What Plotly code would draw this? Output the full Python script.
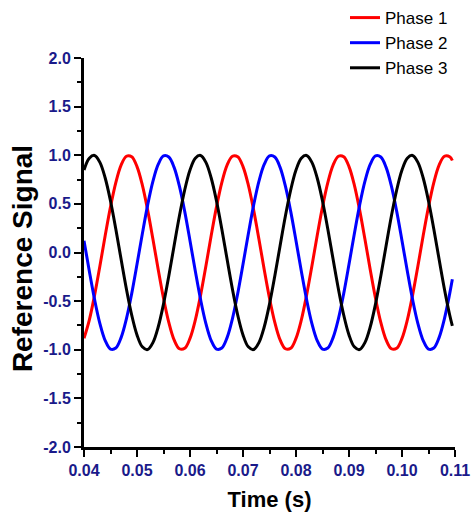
import plotly.graph_objects as go

# Time samples (s)
time_s = [0.040, 0.041, 0.042, 0.043, 0.044, 0.045, 0.046, 0.047, 0.048, 0.049,
          0.050, 0.051, 0.052, 0.053, 0.054, 0.055, 0.056, 0.057, 0.058, 0.059,
          0.060, 0.061, 0.062, 0.063, 0.064, 0.065, 0.066, 0.067, 0.068, 0.069,
          0.070, 0.071, 0.072, 0.073, 0.074, 0.075, 0.076, 0.077, 0.078, 0.079,
          0.080, 0.081, 0.082, 0.083, 0.084, 0.085, 0.086, 0.087, 0.088, 0.089,
          0.090, 0.091, 0.092, 0.093, 0.094, 0.095, 0.096, 0.097, 0.098, 0.099,
          0.100, 0.101, 0.102, 0.103, 0.104, 0.105, 0.106, 0.107, 0.108, 0.109,
          0.1095]

phase1 = [-0.883, -0.695, -0.438, -0.139, 0.174, 0.469, 0.719, 0.899, 0.990, 0.985,
          0.883, 0.695, 0.438, 0.139, -0.174, -0.469, -0.719, -0.899, -0.990, -0.985,
          -0.883, -0.695, -0.438, -0.139, 0.174, 0.469, 0.719, 0.899, 0.990, 0.985,
          0.883, 0.695, 0.438, 0.139, -0.174, -0.469, -0.719, -0.899, -0.990, -0.985,
          -0.883, -0.695, -0.438, -0.139, 0.174, 0.469, 0.719, 0.899, 0.990, 0.985,
          0.883, 0.695, 0.438, 0.139, -0.174, -0.469, -0.719, -0.899, -0.990, -0.985,
          -0.883, -0.695, -0.438, -0.139, 0.174, 0.469, 0.719, 0.899, 0.990, 0.985,
          0.946]

phase2 = [0.122, -0.191, -0.485, -0.731, -0.906, -0.993, -0.982, -0.875, -0.682, -0.423,
          -0.122, 0.191, 0.485, 0.731, 0.906, 0.993, 0.982, 0.875, 0.682, 0.423,
          0.122, -0.191, -0.485, -0.731, -0.906, -0.993, -0.982, -0.875, -0.682, -0.423,
          -0.122, 0.191, 0.485, 0.731, 0.906, 0.993, 0.982, 0.875, 0.682, 0.423,
          0.122, -0.191, -0.485, -0.731, -0.906, -0.993, -0.982, -0.875, -0.682, -0.423,
          -0.122, 0.191, 0.485, 0.731, 0.906, 0.993, 0.982, 0.875, 0.682, 0.423,
          0.122, -0.191, -0.485, -0.731, -0.906, -0.993, -0.982, -0.875, -0.682, -0.423,
          -0.276]

phase3 = [0.848, 0.970, 0.998, 0.927, 0.766, 0.530, 0.242, -0.070, -0.375, -0.643,
          -0.848, -0.970, -0.998, -0.927, -0.766, -0.530, -0.242, 0.070, 0.375, 0.643,
          0.848, 0.970, 0.998, 0.927, 0.766, 0.530, 0.242, -0.070, -0.375, -0.643,
          -0.848, -0.970, -0.998, -0.927, -0.766, -0.530, -0.242, 0.070, 0.375, 0.643,
          0.848, 0.970, 0.998, 0.927, 0.766, 0.530, 0.242, -0.070, -0.375, -0.643,
          -0.848, -0.970, -0.998, -0.927, -0.766, -0.530, -0.242, 0.070, 0.375, 0.643,
          0.848, 0.970, 0.998, 0.927, 0.766, 0.530, 0.242, -0.070, -0.375, -0.643,
          -0.755]

series_names = ["Phase 1", "Phase 2", "Phase 3"]
series_colors = ["#ff0000", "#0000ff", "#000000"]

x_tick_vals = [0.04, 0.05, 0.06, 0.07, 0.08, 0.09, 0.10, 0.11]
x_tick_text = ["0.04", "0.05", "0.06", "0.07", "0.08", "0.09", "0.10", "0.11"]
y_tick_vals = [2.0, 1.5, 1.0, 0.5, 0.0, -0.5, -1.0, -1.5, -2.0]
y_tick_text = ["2.0", "1.5", "1.0", "0.5", "0.0", "-0.5", "-1.0", "-1.5", "-2.0"]

FONT = "Liberation Sans, Arial, sans-serif"
TICK_COLOR = "#1a1a8a"

fig = go.Figure()
for name, ys, col in zip(series_names, [phase1, phase2, phase3], series_colors):
    fig.add_trace(go.Scatter(x=time_s, y=ys, mode="lines", name=name,
                             line=dict(color=col, width=3, shape="spline", smoothing=1.0)))

axis_common = dict(
    showline=True, linecolor="black", linewidth=3, mirror=False,
    showgrid=False, zeroline=False,
    ticks="outside", ticklen=7, tickwidth=2, tickcolor="black",
    tickfont=dict(family=FONT, size=16, color=TICK_COLOR, weight="bold"),
)

fig.update_layout(
    width=474, height=525,
    paper_bgcolor="white", plot_bgcolor="white",
    margin=dict(l=84, r=19, t=58, b=78, autoexpand=False),
    font=dict(family=FONT),
    showlegend=True,
    legend=dict(x=0.7035, xanchor="left", y=1.149, yanchor="top",
                bgcolor="rgba(0,0,0,0)", font=dict(family=FONT, size=17, color="black"),
                itemwidth=30, tracegroupgap=0),
    xaxis=dict(range=[0.04, 0.11], tickmode="array", tickvals=x_tick_vals, ticktext=x_tick_text,
               minor=dict(ticks="outside", ticklen=4, tickwidth=2, tickcolor="black", dtick=0.005, tick0=0.04),
               title=dict(text="<b>Time (s)</b>", font=dict(family=FONT, size=22, color="black"), standoff=14),
               **axis_common),
    yaxis=dict(range=[-2.0, 2.0], tickmode="array", tickvals=y_tick_vals, ticktext=y_tick_text,
               minor=dict(ticks="outside", ticklen=4, tickwidth=2, tickcolor="black", dtick=0.25, tick0=0),
               **axis_common),
    annotations=[dict(text="<b>Reference Signal</b>", xref="paper", yref="paper",
                      x=0, xshift=-62, y=0.483, xanchor="center", yanchor="middle",
                      textangle=-90, showarrow=False,
                      font=dict(family=FONT, size=28, color="black"))],
)

fig.write_html("out.html")
